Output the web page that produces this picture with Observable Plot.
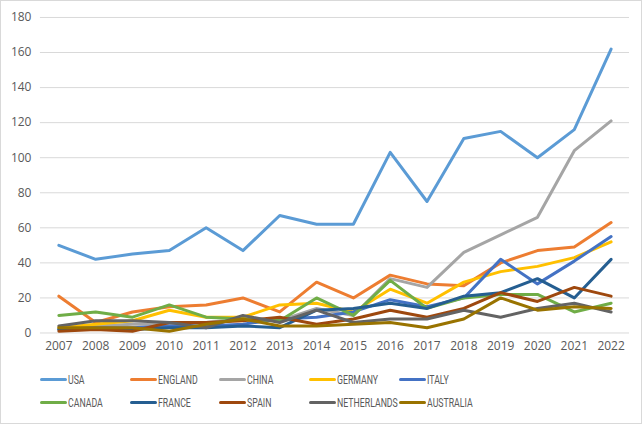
<!DOCTYPE html>
<html>
<head>
<meta charset="utf-8">
<script src="https://cdn.jsdelivr.net/npm/d3@7"></script>
<script src="https://cdn.jsdelivr.net/npm/@observablehq/plot@0.6"></script>
<style>
  html, body { margin: 0; padding: 0; background: #fff; }
  #wrap { position: relative; width: 640px; height: 422px; border: 1px solid #d9d9d9; overflow: hidden; font-family: "Open Sans", "Liberation Sans", sans-serif; }
  #chart { position: absolute; left: -1px; top: -1px; }
  .leg { position: absolute; display: flex; align-items: center; font-size: 12.5px; color: #595959; font-family: "Roboto", sans-serif; white-space: nowrap; }
  .sw { width: 27px; height: 3px; border-radius: 2px; margin-right: 1px; }
  .lt { display: inline-block; transform: scaleX(0.7); transform-origin: left center; }
</style>
</head>
<body>
<div id="wrap"><div id="chart"></div><div id="legend"></div></div>
<script>
const years = [2007,2008,2009,2010,2011,2012,2013,2014,2015,2016,2017,2018,2019,2020,2021,2022];
const seriesNames = ["USA","ENGLAND","CHINA","GERMANY","ITALY","CANADA","FRANCE","SPAIN","NETHERLANDS","AUSTRALIA"];
const colors = ["#5B9BD5","#ED7D31","#A5A5A5","#FFC000","#4472C4","#70AD47","#255E91","#9E480E","#636363","#997300"];
const USA         = [50,42,45,47,60,47,67,62,62,103,75,111,115,100,116,162];
const ENGLAND     = [21,6,12,15,16,20,12,29,20,33,28,27,40,47,49,63];
const CHINA       = [2,4,5,5,6,8,7,14,10,31,26,46,56,66,104,121];
const GERMANY     = [3,5,7,13,9,9,16,17,12,25,17,29,35,38,43,52];
const ITALY       = [2,3,3,4,4,5,8,9,12,19,15,20,42,28,41,55];
const CANADA      = [10,12,9,16,9,8,7,20,10,30,14,20,22,22,12,17];
const FRANCE      = [2,2,2,3,3,4,3,13,14,17,14,21,23,31,20,42];
const SPAIN       = [1,2,1,6,6,7,9,5,8,13,9,14,23,18,26,21];
const NETHERLANDS = [4,7,7,6,3,10,6,13,6,8,8,13,9,14,17,12];
const AUSTRALIA   = [3,3,3,1,5,8,4,4,5,6,3,8,20,13,15,14];
const yTicks = [0,20,40,60,80,100,120,140,160,180];

const values = [USA,ENGLAND,CHINA,GERMANY,ITALY,CANADA,FRANCE,SPAIN,NETHERLANDS,AUSTRALIA];
const data = [];
seriesNames.forEach((s, i) => years.forEach((y, j) => data.push({series: s, year: y, value: values[i][j]})));

const chart = Plot.plot({
  width: 642,
  height: 366,
  marginTop: 17,
  marginBottom: 33,
  marginLeft: 40,
  marginRight: 12,
  style: {fontFamily: '"Open Sans", "Liberation Sans", sans-serif', fontSize: "12px", color: "#595959", background: "transparent"},
  x: {domain: [2006.5, 2022.5], ticks: years, tickFormat: d => String(d), label: null, tickSize: 0, tickPadding: 9},
  y: {domain: [0, 180], ticks: yTicks, label: null, tickSize: 0, tickPadding: 9},
  color: {domain: seriesNames, range: colors},
  marks: [
    Plot.gridY(yTicks, {stroke: "#d9d9d9", strokeOpacity: 1, strokeWidth: 1}),
    Plot.axisX({ticks: years, tickFormat: d => String(d), tickSize: 0, tickPadding: 9, label: null, fill: "#595959"}),
    Plot.axisY({ticks: yTicks, tickSize: 0, tickPadding: 9, label: null, fill: "#595959"}),
    Plot.line(data, {x: "year", y: "value", z: "series", stroke: "series", strokeWidth: 3, strokeLinejoin: "round", strokeLinecap: "round"})
  ]
});
document.getElementById("chart").appendChild(chart);

const leg = document.getElementById("legend");
const colX = [40, 130, 219, 309, 399];
const rowY = [372, 395];
seriesNames.forEach((s, i) => {
  const d = document.createElement("div");
  d.className = "leg";
  d.style.left = (colX[i % 5] - 1) + "px";
  d.style.top = (rowY[Math.floor(i / 5)] - 1) + "px";
  d.innerHTML = `<span class="sw" style="background:${colors[i]}"></span><span class="lt">${s}</span>`;
  leg.appendChild(d);
});
</script>
</body>
</html>
